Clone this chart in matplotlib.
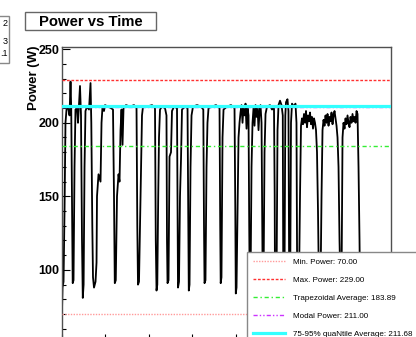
import matplotlib
matplotlib.use("Agg")
import matplotlib.pyplot as plt
from matplotlib.patches import Rectangle
from matplotlib.ticker import MultipleLocator, FuncFormatter

plt.rcParams['font.family'] = ['Liberation Sans', 'DejaVu Sans']

# ---- data (time in s, power in W) ----
time_s = [0, 12, 35, 58, 80, 104, 138, 173, 196, 212, 230, 246, 265, 288, 310, 345, 368, 391, 414, 437,
          460, 478, 497, 518, 540, 575, 621, 656, 674, 697, 713, 736, 771, 794, 805, 840, 886, 909, 932, 966,
          989, 1058, 1127, 1173, 1196, 1214, 1237, 1265, 1300, 1323, 1346, 1369, 1392, 1415, 1472, 1564, 1656,
          1714, 1732, 1748, 1771, 1794, 1817, 1840, 1863, 1955, 2070, 2139, 2157, 2174, 2192, 2213, 2231, 2254,
          2300, 2369, 2403, 2415, 2427, 2450, 2473, 2507, 2530, 2576, 2645, 2657, 2668, 2691, 2714, 2737, 2760,
          2829, 2887, 2905, 2916, 2933, 2956, 2979, 3013, 3105, 3197, 3250, 3266, 3278, 3300, 3324, 3346, 3370,
          3450, 3542, 3623, 3639, 3650, 3668, 3692, 3715, 3795, 3887, 3968, 3986, 3997, 4014, 4037, 4060, 4083,
          4106, 4129, 4152, 4175, 4198, 4221, 4244, 4267, 4290, 4306, 4318, 4336, 4359, 4382, 4405, 4428, 4451,
          4474, 4497, 4520, 4543, 4566, 4589, 4605, 4617, 4635, 4658, 4681, 4715, 4784, 4830, 4876, 4892, 4899,
          4934, 4957, 4980, 5014, 5049, 5078, 5090, 5117, 5136, 5152, 5186, 5209, 5226, 5249, 5267, 5290, 5336,
          5370, 5393, 5410, 5451, 5474, 5497, 5520, 5543, 5566, 5589, 5612, 5635, 5658, 5681, 5704, 5727, 5750,
          5773, 5796, 5819, 5842, 5865, 5888, 5911, 5946, 5969, 5992, 6015, 6038, 6061, 6084, 6107, 6130, 6153,
          6176, 6199, 6222, 6245, 6268, 6291, 6314, 6337, 6360, 6383, 6406, 6429, 6452, 6475, 6498, 6521, 6544,
          6567, 6590, 6613, 6636, 6659, 6682, 6705, 6728, 6751, 6774, 6797, 6820, 6843, 6855]
power_w = [72, 88, 92, 140, 200, 209, 211, 205, 228, 210, 150, 91, 93, 170, 209, 210, 200, 212, 225, 205,
           120, 81, 90, 170, 208, 211, 209, 227, 200, 130, 95, 88, 92, 105, 150, 165, 160, 200, 211, 208,
           212, 211, 210, 209, 150, 91, 93, 150, 165, 160, 195, 209, 185, 210, 212, 211, 212,
           210, 130, 90, 92, 130, 165, 205, 211, 211, 212, 210, 120, 86, 90, 150, 190, 209,
           211, 210, 205, 120, 91, 93, 177, 180, 208, 211, 210, 140, 88, 92, 150, 175, 209,
           211, 210, 130, 86, 90, 170, 205, 211, 212, 211, 209, 130, 91, 93, 170, 200, 210,
           211, 212, 210, 130, 91, 95, 190, 209, 211, 212, 210, 140, 84, 88, 140, 190, 200,
           207, 212, 200, 211, 205, 213, 196, 210, 205, 130, 86, 90, 170, 200, 210, 198, 212,
           204, 211, 195, 208, 212, 200, 130, 86, 90, 180, 206, 211, 212, 209, 210, 150, 86,
           90, 195, 212, 215, 212, 205, 86, 90, 205, 214, 216, 208, 86, 92, 200, 213, 211,
           213, 200, 86, 90, 150, 198, 203, 199, 206, 200, 208, 197, 205, 201, 207, 199, 204,
           196, 203, 200, 195, 180, 140, 86, 88, 150, 195, 202, 198, 205, 200, 206, 198, 204,
           201, 207, 199, 205, 208, 203, 198, 190, 170, 120, 86, 90, 190, 200, 196, 203, 199,
           205, 200, 197, 204, 200, 206, 201, 204, 200, 208, 206, 170, 120, 86]

stat_labels = ["Min. Power: 70.00", "Max. Power: 229.00", "Trapezoidal Average: 183.89",
               "Modal Power: 211.00", "75-95% quaNtile Average: 211.68"]
stat_values = [70.00, 229.00, 183.89, 211.00, 211.68]
stat_colors = ['#ff9a9a', '#ff3030', '#33ee33', '#cc33ff', '#33ffff']
stat_styles = [(0, (1, 1)), (0, (2, 1.2)), (0, (3, 2, 1, 2)), (0, (3, 1.5, 1, 1.5, 1, 1.5)), '-']
stat_widths = [1.0, 1.0, 1.0, 1.0, 2.3]

W, H = 416, 337
fig = plt.figure(figsize=(W / 100, H / 100), dpi=100)

def fx(px):
    return px / W

def fy(py):
    return 1 - py / H

ax_left, ax_right, ax_top, ax_bot = 62, 391, 47, 343.5
ax = fig.add_axes([fx(ax_left), fy(ax_bot), fx(ax_right) - fx(ax_left), fy(ax_top) - fy(ax_bot)])
ax.plot(time_s, power_w, color='black', lw=1.3, zorder=2)

handles = []
for v, c, ls, lw, lab in zip(stat_values, stat_colors, stat_styles, stat_widths, stat_labels):
    h = ax.axhline(v, color=c, ls=ls, lw=lw, zorder=3, label=lab)
    handles.append(h)

ax.set_xlim(0, 7567)
ax.set_ylim(50, 251.5)
ax.yaxis.set_major_locator(MultipleLocator(50))
ax.yaxis.set_minor_locator(MultipleLocator(10))
ax.yaxis.set_major_formatter(FuncFormatter(lambda v, p: '' if v < 75 else f'{v:.0f}'))
ax.xaxis.set_major_locator(MultipleLocator(1000))
ax.tick_params(axis='y', which='major', direction='in', length=6, width=0.8, labelsize=9, pad=2)
ax.tick_params(axis='y', which='minor', direction='in', length=3, width=0.8)
ax.tick_params(axis='x', which='major', direction='in', length=7, width=0.8, labelbottom=False)
for lab in ax.get_yticklabels():
    lab.set_fontweight('bold')
for s in ax.spines.values():
    s.set_color('#505050')
    s.set_linewidth(1.0)
ax.set_ylabel('Power (W)', fontsize=9.5, fontweight='bold')
ax.yaxis.set_label_coords(-0.068, 0.895)

leg = ax.legend(handles=handles, loc='upper left', bbox_to_anchor=(fx(247), fy(252)),
                bbox_transform=fig.transFigure, borderaxespad=0, fontsize=5.8,
                handlelength=4.0, handletextpad=0.9, labelspacing=1.3, borderpad=0.75,
                fancybox=False, framealpha=1, edgecolor='#888888')
leg.get_frame().set_linewidth(1.0)
leg.set_zorder(10)

# title box
fig.patches.append(Rectangle((fx(25), fy(30)), fx(156) - fx(25), fy(12) - fy(30),
                             transform=fig.transFigure, facecolor='white', edgecolor='#666666', lw=1.0))
fig.text(fx(90.5), fy(21.5), 'Power vs Time', ha='center', va='center', fontsize=10.7, fontweight='bold')

# partially visible stats box at the left
fig.patches.append(Rectangle((fx(-60), fy(63)), fx(9) - fx(-60), fy(16) - fy(63),
                             transform=fig.transFigure, facecolor='white', edgecolor='#888888', lw=1.0))
for yy, tt in [(23, '2'), (41.5, '3'), (53.5, '.1')]:
    fig.text(fx(7.5), fy(yy), tt, ha='right', va='center', fontsize=6.5)

fig.savefig('out.png', dpi=100)
